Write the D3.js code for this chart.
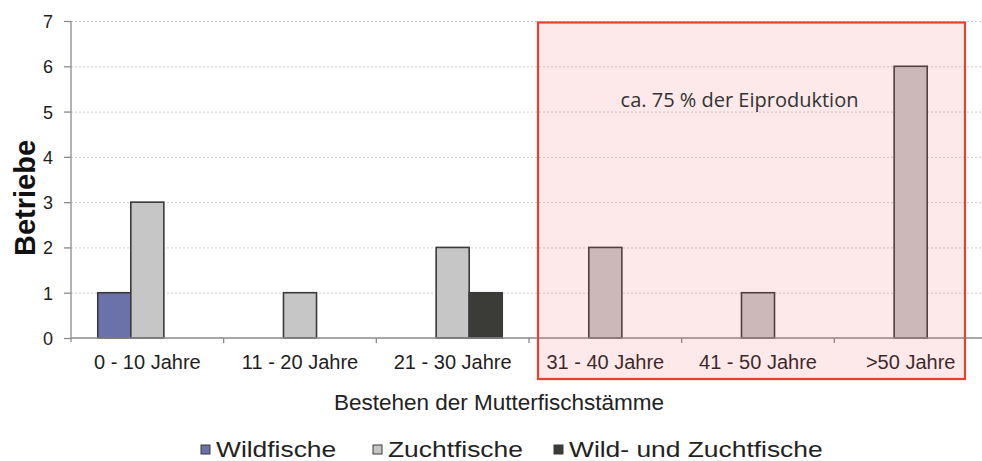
<!DOCTYPE html>
<html>
<head>
<meta charset="utf-8">
<script src="https://cdn.jsdelivr.net/npm/d3@7"></script>
<style>
  html, body { margin: 0; padding: 0; background: #fff; }
  svg { display: block; font-family: Arial, "Liberation Sans", sans-serif; }
</style>
</head>
<body>
<svg id="chart" width="982" height="461"></svg>
<script>
// data
var categories = ["0 - 10 Jahre", "11 - 20 Jahre", "21 - 30 Jahre", "31 - 40 Jahre", "41 - 50 Jahre", ">50 Jahre"];
var seriesNames = ["Wildfische", "Zuchtfische", "Wild- und Zuchtfische"];
var wildfische = [1, 0, 0, 0, 0, 0];
var zuchtfische = [3, 1, 2, 2, 1, 6];
var wildUndZucht = [0, 0, 1, 0, 0, 0];
var yTicks = [0, 1, 2, 3, 4, 5, 6, 7];
var highlightFrom = "31 - 40 Jahre";
var highlightLabel = "ca. 75 % der Eiproduktion";

var colors = ["#6b71a9", "#c6c6c6", "#3b3c38"];

var svg = d3.select("#chart");
var margin = {left: 71, top: 21, bottom: 338};

var x = d3.scaleBand().domain(categories).range([margin.left, 987]);
var xSub = d3.scaleBand().domain(seriesNames).range([0, x.bandwidth()]).paddingOuter(0.81);
var y = d3.scaleLinear().domain([0, 7]).range([margin.bottom, margin.top]);

var values = [wildfische, zuchtfische, wildUndZucht];
var rows = [];
seriesNames.forEach(function(s, si) {
    categories.forEach(function(c, ci) {
        if (values[si][ci] > 0) rows.push({cat: c, series: s, idx: si, v: values[si][ci]});
    });
});

// dotted grid
svg.append("g").selectAll("line")
    .data(yTicks.filter(function(d) { return d > 0; }))
    .enter().append("line")
    .attr("x1", margin.left).attr("x2", 982)
    .attr("y1", function(d) { return y(d) + 0.5; })
    .attr("y2", function(d) { return y(d) + 0.5; })
    .style("stroke", "#cccccc")
    .style("stroke-width", 1)
    .style("stroke-dasharray", "2,2");

// bars
svg.append("g").selectAll("rect")
    .data(rows)
    .enter().append("rect")
    .attr("x", function(d) { return x(d.cat) + xSub(d.series); })
    .attr("width", xSub.bandwidth())
    .attr("y", function(d) { return y(d.v); })
    .attr("height", function(d) { return y(0) - y(d.v); })
    .style("fill", function(d) { return colors[d.idx]; })
    .style("stroke", "#3a3a3a")
    .style("stroke-width", 1.6);

// axes
var yAxis = svg.append("g").attr("transform", "translate(" + margin.left + ",0)")
    .call(d3.axisLeft(y).tickValues(yTicks).tickSize(7).tickPadding(11).tickFormat(d3.format("d")));
yAxis.select(".domain").attr("d", "M0," + (y(7)) + "V" + (y(0) + 4));
yAxis.selectAll("line, .domain").style("stroke", "#8a8a8a").style("stroke-width", 1.3);
yAxis.selectAll("text").style("font-size", "18px").style("fill", "#1e1e1e")
    .style("font-family", "Arial, 'Liberation Sans', sans-serif").attr("dy", "0.36em");

var boundaries = categories.map(function(c) { return x(c); });
var xAxis = svg.append("g").attr("transform", "translate(0," + y(0) + ")");
xAxis.append("line").attr("x1", margin.left).attr("x2", 987)
    .style("stroke", "#8a8a8a").style("stroke-width", 1.3);
xAxis.selectAll("line.tk").data(boundaries.slice(1)).enter().append("line")
    .attr("class", "tk")
    .attr("x1", function(d) { return d; }).attr("x2", function(d) { return d; })
    .attr("y1", 0).attr("y2", 5)
    .style("stroke", "#8a8a8a").style("stroke-width", 1.3);
xAxis.selectAll("text").data(categories).enter().append("text")
    .attr("x", function(d) { return x(d) + x.bandwidth() / 2; })
    .attr("y", 31)
    .attr("text-anchor", "middle")
    .style("font-size", "20px").style("fill", "#1e1e1e")
    .text(function(d) { return d; });

// highlight box over the last three groups
var hx0 = x(highlightFrom) + 9;
var hx1 = x.range()[1] - 22;
svg.append("rect")
    .attr("x", hx0).attr("y", y(7) + 1.5)
    .attr("width", hx1 - hx0).attr("height", 379 - y(7) - 1.5)
    .style("fill", "rgba(240,100,100,0.14)")
    .style("stroke", "#e8402c")
    .style("stroke-width", 2.2);
svg.append("text")
    .attr("x", (hx0 + hx1) / 2 - 12)
    .attr("y", y(5.1))
    .attr("text-anchor", "middle")
    .style("font-family", "'Open Sans', sans-serif")
    .style("font-size", "20px")
    .style("fill", "#333")
    .text(highlightLabel);

// axis titles
svg.append("text")
    .attr("transform", "translate(35,198) rotate(-90)")
    .attr("text-anchor", "middle")
    .style("font-size", "29px").style("font-weight", "bold").style("fill", "#111")
    .text("Betriebe");
svg.append("text")
    .attr("x", 499).attr("y", 410)
    .attr("text-anchor", "middle")
    .style("font-size", "22.5px").style("fill", "#222")
    .text("Bestehen der Mutterfischstämme");

// legend (text is drawn a bit wide in the original)
var legendX = [201, 373, 554];
var lg = svg.append("g").selectAll("g")
    .data(seriesNames)
    .enter().append("g")
    .attr("transform", function(d, i) { return "translate(" + legendX[i] + ",445)"; });
lg.append("rect").attr("width", 9).attr("height", 9)
    .style("fill", function(d, i) { return colors[i]; })
    .style("stroke", "#3a3a3a").style("stroke-width", 1);
lg.append("text")
    .attr("transform", "translate(15,11.5) scale(1.2,1)")
    .style("font-size", "22px").style("fill", "#222")
    .text(function(d) { return d; });
</script>
</body>
</html>
